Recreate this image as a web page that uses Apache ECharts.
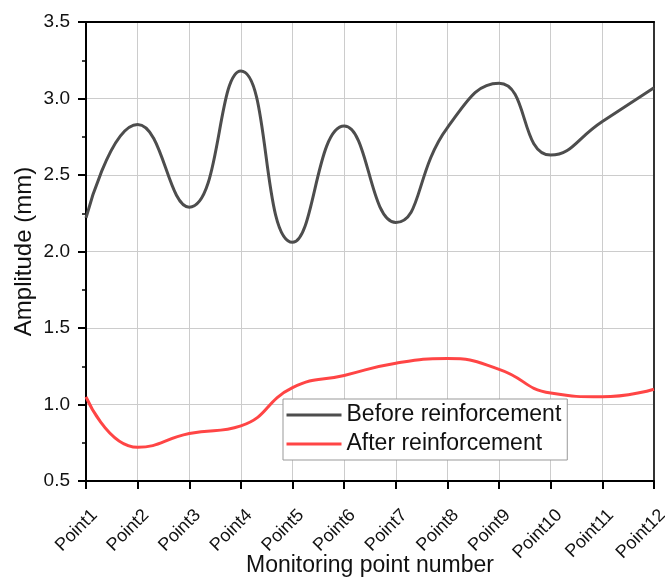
<!DOCTYPE html>
<html>
<head>
<meta charset="utf-8">
<script src="https://cdn.jsdelivr.net/npm/echarts@6/dist/echarts.min.js"></script>
<style>html,body{margin:0;padding:0;background:#fff}#chart{width:665px;height:577px}</style>
</head>
<body>
<div id="chart"></div>
<script>
var categories = ['Point1','Point2','Point3','Point4','Point5','Point6','Point7','Point8','Point9','Point10','Point11','Point12'];
var beforeValues = [2.22, 2.83, 2.29, 3.18, 2.06, 2.82, 2.19, 2.81, 3.10, 2.63, 2.85, 3.07];
var afterValues = [1.05, 0.72, 0.81, 0.86, 1.11, 1.19, 1.27, 1.30, 1.23, 1.075, 1.05, 1.10];
var seriesNames = ['Before reinforcement', 'After reinforcement'];
var xAxisName = 'Monitoring point number';
var yAxisName = 'Amplitude (mm)';

var FONT = '"Liberation Sans", Arial, sans-serif';
var chart = echarts.init(document.getElementById('chart'), null, {renderer: 'canvas'});
chart.setOption({
  animation: false,
  backgroundColor: '#fff',
  textStyle: {fontFamily: FONT},
  grid: {left: 86, right: 11, top: 22, bottom: 96, containLabel: false, outerBoundsMode: 'none'},
  legend: {
    left: 283, top: 399,
    orient: 'vertical',
    padding: [3, 6, 3, 2],
    itemGap: 3,
    itemWidth: 55, itemHeight: 14,
    backgroundColor: '#fff',
    borderColor: '#999', borderWidth: 1,
    itemStyle: {opacity: 0},
    lineStyle: {width: 3},
    textStyle: {fontFamily: FONT, fontSize: 23, color: '#111', lineHeight: 26},
    data: seriesNames
  },
  xAxis: [{
    type: 'category',
    data: categories,
    boundaryGap: false,
    name: xAxisName,
    nameLocation: 'middle',
    nameGap: 73,
    nameMoveOverlap: false,
    nameTextStyle: {fontFamily: FONT, fontSize: 23, color: '#111'},
    axisLine: {lineStyle: {color: '#000', width: 2}},
    axisTick: {show: true, alignWithLabel: true, length: 8, lineStyle: {color: '#000', width: 2}},
    axisLabel: {rotate: 45, fontSize: 18, color: '#111', fontFamily: FONT, margin: 23,
      verticalAlign: 'top', lineHeight: 24, interval: 0, hideOverlap: false},
    splitLine: {show: true, lineStyle: {color: '#ccc', width: 1}}
  }, {
    type: 'category',
    data: categories,
    boundaryGap: false,
    position: 'top',
    axisLine: {lineStyle: {color: '#000', width: 2}},
    axisTick: {show: false},
    axisLabel: {show: false},
    splitLine: {show: false}
  }],
  yAxis: [{
    type: 'value',
    min: 0.5, max: 3.5, interval: 0.5,
    name: yAxisName,
    nameLocation: 'middle',
    nameGap: 50,
    nameMoveOverlap: false,
    nameTextStyle: {fontFamily: FONT, fontSize: 24, color: '#111'},
    axisLine: {show: true, lineStyle: {color: '#000', width: 2}},
    axisTick: {show: true, inside: false, length: 8, lineStyle: {color: '#000', width: 2}},
    minorTick: {show: true, splitNumber: 2, length: 4, lineStyle: {color: '#000', width: 1.5}},
    axisLabel: {fontSize: 19, color: '#111', fontFamily: FONT, margin: 16,
      formatter: function (v) { return v.toFixed(1); }},
    splitLine: {show: true, lineStyle: {color: '#ccc', width: 1}}
  }, {
    type: 'value',
    min: 0.5, max: 3.5, interval: 0.5,
    position: 'right',
    axisLine: {show: true, lineStyle: {color: '#333', width: 2}},
    axisTick: {show: false},
    axisLabel: {show: false},
    splitLine: {show: false}
  }],
  series: [{
    name: seriesNames[0],
    type: 'line',
    data: beforeValues,
    smooth: 0.5,
    symbol: 'none',
    lineStyle: {color: '#4d4d4d', width: 3},
    itemStyle: {color: '#4d4d4d'},
    z: 3
  }, {
    name: seriesNames[1],
    type: 'line',
    data: afterValues,
    smooth: 0.5,
    symbol: 'none',
    lineStyle: {color: '#ff4545', width: 3},
    itemStyle: {color: '#ff4545'},
    z: 3
  }]
});
</script>
</body>
</html>
